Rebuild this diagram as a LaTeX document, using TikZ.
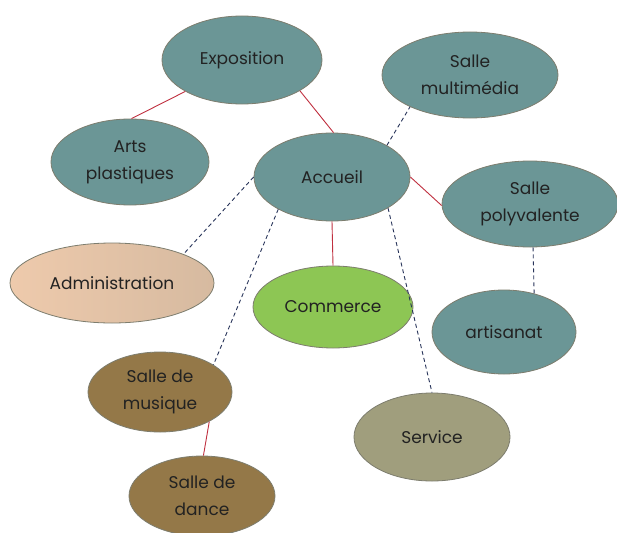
\documentclass[tikz,border=0pt]{standalone}
\usepackage{fontspec}
\setmainfont{Poppins}
\usetikzlibrary{shapes.geometric}
\definecolor{teal1}{RGB}{107,150,150}
\definecolor{edge1}{RGB}{125,125,110}
\definecolor{green1}{RGB}{141,198,84}
\definecolor{brown1}{RGB}{148,120,72}
\definecolor{olive1}{RGB}{160,158,125}
\definecolor{tanL}{RGB}{238,202,172}
\definecolor{tanR}{RGB}{214,186,160}
\definecolor{redline}{RGB}{192,48,64}
\definecolor{navyline}{RGB}{40,52,90}
\definecolor{txt}{RGB}{34,34,34}
\tikzset{
  bub/.style={ellipse, draw=edge1, line width=0.8pt, inner sep=0pt, text=txt,
    align=center, font=\fontsize{17}{27}\selectfont},
  tealb/.style={bub, fill=teal1},
  solidc/.style={draw=redline, line width=0.9pt},
  dashc/.style={draw=navyline, line width=0.9pt, dash pattern=on 4pt off 3pt},
}
\begin{document}
\begin{tikzpicture}[x=1pt,y=-1pt]
\fill[white] (0,0) rectangle (617,532);
\useasboundingbox (0,0) rectangle (617,532);
\node[tealb, minimum width=160, minimum height=88] (expo) at (242,60) {Exposition};
\node[tealb, minimum width=176, minimum height=86] (mm) at (470,75) {Salle\\multimédia};
\node[tealb, minimum width=158, minimum height=86] (arts) at (130,162) {Arts\\plastiques};
\node[tealb, minimum width=156, minimum height=88] (acc) at (332,177) {Accueil};
\node[tealb, minimum width=176, minimum height=86] (sp) at (530,204) {Salle\\polyvalente};
\node[bub, left color=tanL, right color=tanR, minimum width=204, minimum height=80] (adm) at (112,283) {Administration};
\node[bub, fill=green1, minimum width=160, minimum height=82] (com) at (333,307) {Commerce};
\node[tealb, minimum width=144, minimum height=84] (art) at (504,332) {artisanat};
\node[bub, fill=brown1, minimum width=144, minimum height=80] (mus) at (160,392) {Salle de\\musique};
\node[bub, fill=olive1, minimum width=156, minimum height=88] (ser) at (432,437) {Service};
\node[bub, fill=brown1, minimum width=146, minimum height=80] (dan) at (202,496) {Salle de\\dance};
\draw[solidc] (expo.209) -- (arts.88);
\draw[solidc] (expo.-28) -- (acc.88);
\draw[dashc] (acc.30) -- (mm.208);
\draw[solidc] (acc.0) -- (sp.181);
\draw[dashc] (acc.180) -- (adm.22);
\draw[dashc] (acc.211) -- (mus.27);
\draw[solidc] (acc.270) -- (com.90);
\draw[dashc] (acc.-29) -- (ser.90);
\draw[dashc] (sp.274) -- (art.52);
\draw[solidc] (mus.-31) -- (dan.88);
\end{tikzpicture}
\end{document}
